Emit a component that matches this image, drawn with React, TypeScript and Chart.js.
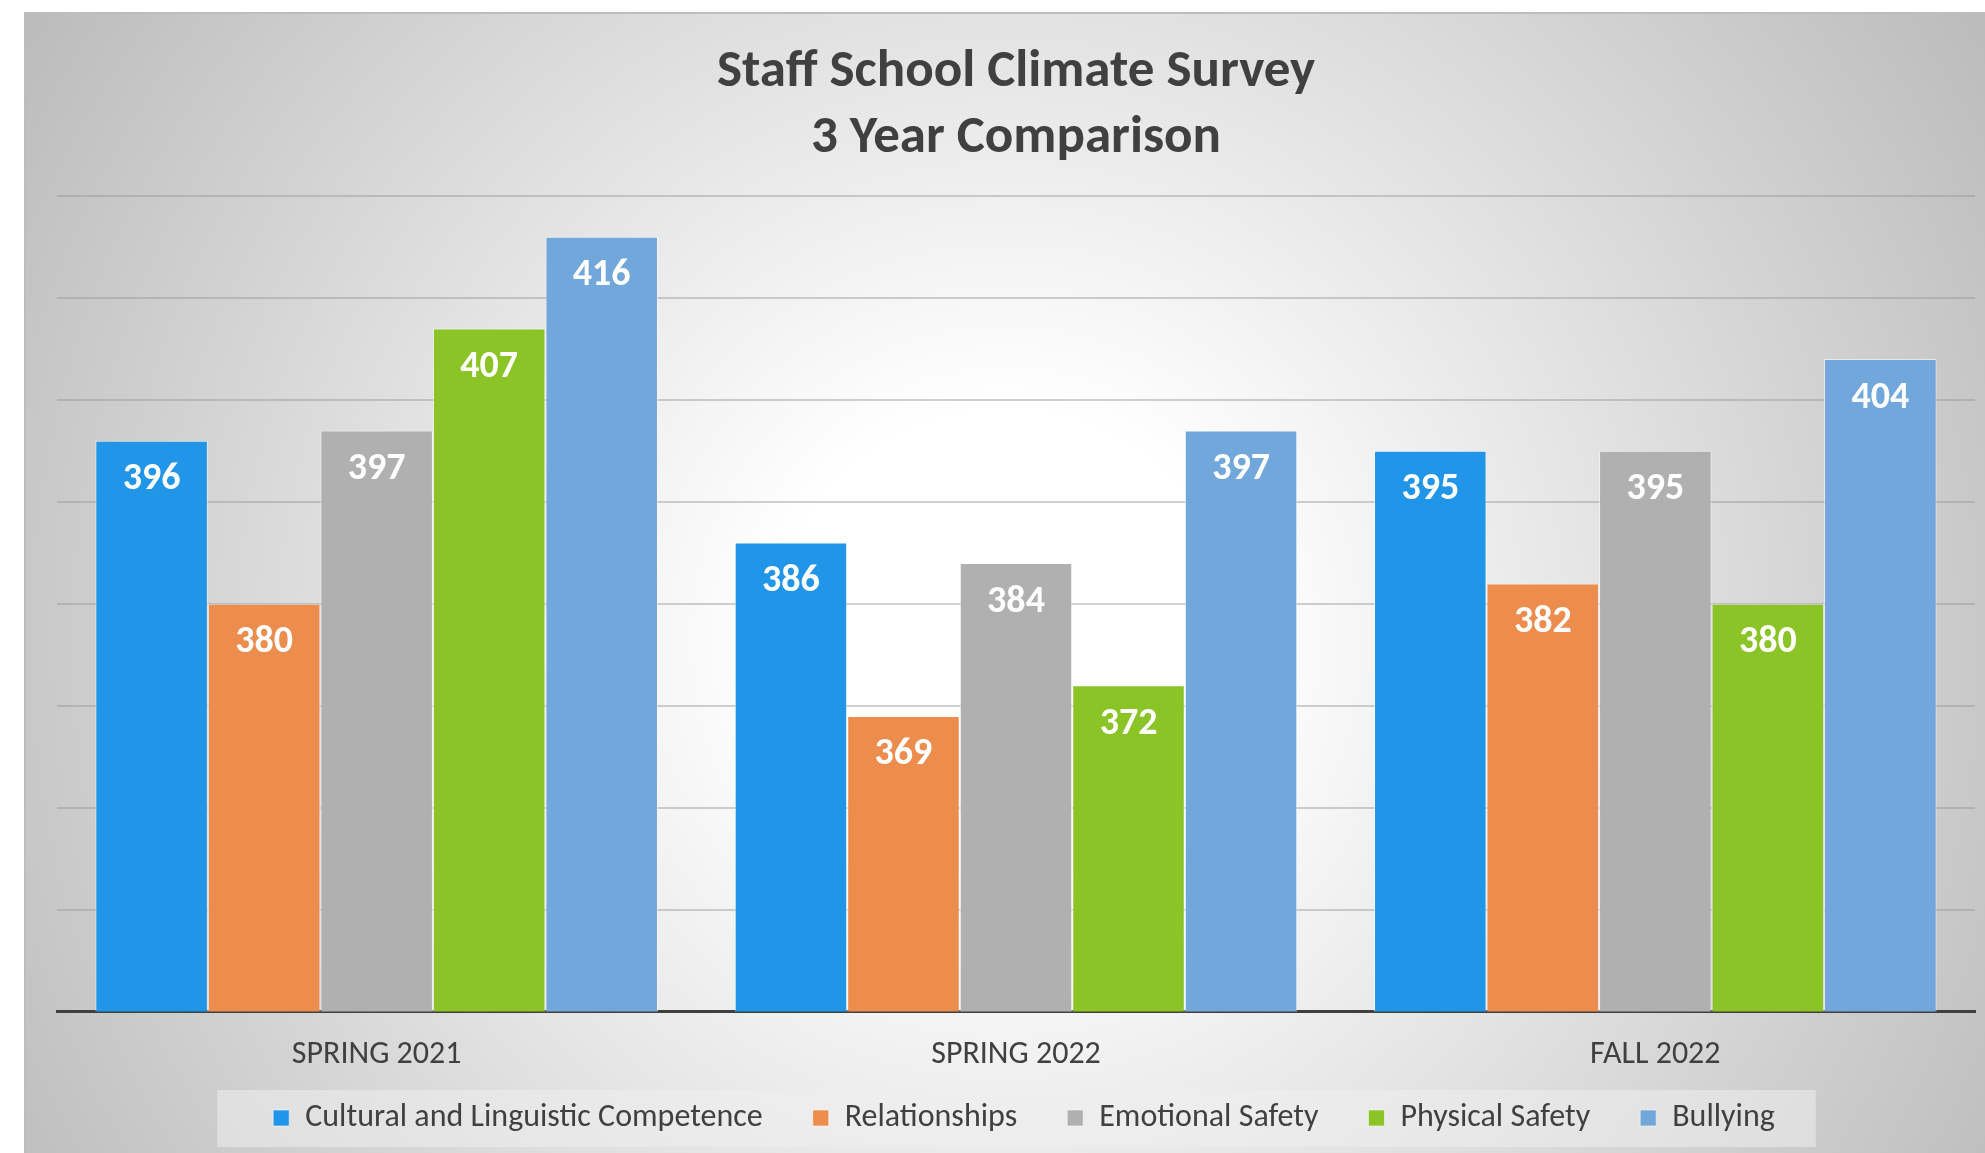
import React, { useEffect, useRef } from "react";
import { Chart, registerables } from "chart.js";

Chart.register(...registerables);

// ---- data ----
const categories = ["SPRING 2021", "SPRING 2022", "FALL 2022"];
const seriesNames = [
  "Cultural and Linguistic Competence",
  "Relationships",
  "Emotional Safety",
  "Physical Safety",
  "Bullying",
];
const culturalValues = [396, 386, 395];
const relationshipsValues = [380, 369, 382];
const emotionalValues = [397, 384, 395];
const physicalValues = [407, 372, 380];
const bullyingValues = [416, 397, 404];
const seriesColors = ["#2196E9", "#EC8C4D", "#B0B0B0", "#8AC426", "#71A7DA"];
const titleLines = ["Staff School Climate Survey", "3 Year Comparison"];
const yMin = 340;
const yMax = 420;
const yStep = 10;

const FONT = "Carlito, Lato, 'Open Sans', sans-serif";
const W = 1985;
const H = 1153;
const LEGEND_FONT = 32;
const LEGEND_PAD = 50;
const LEGEND_ROW_CENTER = 1118;

const backgroundPlugin = {
  id: "bgPlugin",
  afterLayout(chart: any) {
    const lg = chart.legend;
    if (!lg) return;
    const itemHeight = Math.max(LEGEND_FONT, 16);
    const targetTop = LEGEND_ROW_CENTER - LEGEND_PAD - itemHeight / 2;
    const d = lg.top - targetTop;
    lg.top -= d;
    lg.bottom -= d;
    // nudge horizontally a little to the right, like the reference
    lg.left += 8;
    lg.right += 8;
  },
  beforeDraw(chart: any) {
    const ctx = chart.ctx;
    ctx.save();
    ctx.fillStyle = "#ffffff";
    ctx.fillRect(0, 0, W, H);
    const fx = 25, fy = 13;
    const g = ctx.createRadialGradient(1005, 640, 0, 1005, 640, 1150);
    g.addColorStop(0, "#ffffff");
    g.addColorStop(0.2, "#ffffff");
    g.addColorStop(1, "#bcbcbc");
    ctx.fillStyle = g;
    ctx.fillRect(fx, fy, W - fx, H - fy);
    ctx.strokeStyle = "#bdbdbd";
    ctx.lineWidth = 2;
    ctx.beginPath();
    ctx.moveTo(fx, H);
    ctx.lineTo(fx, fy);
    ctx.lineTo(W, fy);
    ctx.stroke();

    // legend background box
    const lg = chart.legend;
    if (lg && lg.legendHitBoxes && lg.legendHitBoxes.length) {
      const hb = lg.legendHitBoxes;
      const first = hb[0];
      const last = hb[hb.length - 1];
      const cy = first.top + first.height / 2;
      const left = first.left - 56;
      const right = last.left + last.width + 41;
      ctx.fillStyle = "rgba(238,238,238,0.55)";
      ctx.fillRect(left, cy - 28, right - left, 57);
    }
    ctx.restore();
  },
};

const dataLabelPlugin = {
  id: "dataLabels",
  afterDatasetsDraw(chart: any) {
    const ctx = chart.ctx;
    ctx.save();
    ctx.fillStyle = "#ffffff";
    ctx.font = `bold 38px ${FONT}`;
    ctx.textAlign = "center";
    ctx.textBaseline = "middle";
    chart.data.datasets.forEach((ds: any, i: number) => {
      const meta = chart.getDatasetMeta(i);
      meta.data.forEach((bar: any, j: number) => {
        ctx.fillText(String(ds.data[j]), bar.x, bar.y + 39);
      });
    });
    ctx.restore();
  },
};

export default function App() {
  const ref = useRef<HTMLCanvasElement | null>(null);

  useEffect(() => {
    if (!ref.current) return;
    const seriesData = [
      culturalValues,
      relationshipsValues,
      emotionalValues,
      physicalValues,
      bullyingValues,
    ];
    const chart = new Chart(ref.current, {
      type: "bar",
      data: {
        labels: categories,
        datasets: seriesNames.map((name, i) => ({
          label: name,
          data: seriesData[i],
          backgroundColor: seriesColors[i],
          borderColor: "rgba(255,255,255,0.55)",
          borderWidth: 1,
          categoryPercentage: 0.88,
          barPercentage: 1.0,
        })),
      },
      options: {
        responsive: false,
        animation: false,
        devicePixelRatio: 1,
        layout: { padding: { top: 13, left: 57, right: 10, bottom: -37 } },
        plugins: {
          title: {
            display: true,
            text: titleLines,
            color: "#404040",
            font: { family: FONT, size: 53, weight: "bold", lineHeight: 1.245 },
            padding: { top: 27, bottom: 24 },
          },
          legend: {
            position: "bottom",
            labels: {
              boxWidth: 16,
              boxHeight: 16,
              padding: LEGEND_PAD,
              color: "#404040",
              font: { family: FONT, size: LEGEND_FONT },
            },
          },
          tooltip: { enabled: false },
        },
        scales: {
          x: {
            grid: { display: false, drawTicks: false },
            border: { display: true, color: "#404040", width: 3 },
            ticks: {
              color: "#404040",
              font: { family: FONT, size: 32 },
              padding: 24,
            },
          },
          y: {
            min: yMin,
            max: yMax,
            ticks: { display: false, stepSize: yStep },
            border: { display: false },
            grid: {
              color: "rgba(150,150,150,0.45)",
              lineWidth: 2,
              drawTicks: false,
            },
            afterFit: (scale: any) => {
              scale.width = 0;
            },
          },
        },
      },
      plugins: [backgroundPlugin, dataLabelPlugin],
    });
    return () => chart.destroy();
  }, []);

  return (
    <div style={{ position: "fixed", left: 0, top: 0, width: W, height: H }}>
      <canvas ref={ref} width={W} height={H} style={{ width: W, height: H, display: "block" }} />
    </div>
  );
}
